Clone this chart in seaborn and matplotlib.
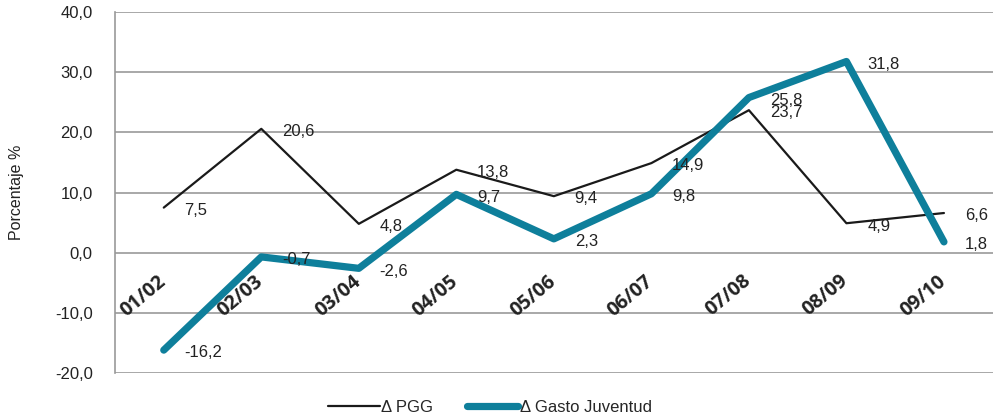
import pandas as pd
import matplotlib.pyplot as plt
import seaborn as sns

# datos
periodos = ["01/02", "02/03", "03/04", "04/05", "05/06", "06/07", "07/08", "08/09", "09/10"]
pgg = [7.5, 20.6, 4.8, 13.8, 9.4, 14.9, 23.7, 4.9, 6.6]
gasto_juventud = [-16.2, -0.7, -2.6, 9.7, 2.3, 9.8, 25.8, 31.8, 1.8]
y_ticks = [-20, -10, 0, 10, 20, 30, 40]

sns.set_theme(style="white")
plt.rcParams["font.family"] = ["Liberation Sans", "DejaVu Sans"]

df = pd.DataFrame({"Periodo": periodos, "PGG": pgg, "Gasto": gasto_juventud})

fig = plt.figure(figsize=(9.94, 4.2), dpi=100)
ax = fig.add_axes([0.1157, 0.112, 0.883, 0.859])

teal = "#0E7F9B"
sns.lineplot(data=df, x="Periodo", y="PGG", color="#1a1a1a", linewidth=1.6,
             ax=ax, label="\u0394 PGG", sort=False)
sns.lineplot(data=df, x="Periodo", y="Gasto", color=teal, linewidth=5.2,
             ax=ax, label="\u0394 Gasto Juventud", sort=False,
             solid_capstyle="round")

# etiquetas de datos
for serie in [pgg, gasto_juventud]:
    for i, v in enumerate(serie):
        ax.annotate(f"{v:.1f}".replace(".", ","), (i, v), xytext=(15, -2),
                    textcoords="offset points", ha="left", va="center",
                    fontsize=12, color="#222222", zorder=4)

ax.set_ylim(-20, 40)
ax.set_xlim(-0.5, 8.5)
ax.set_yticks(y_ticks)
ax.set_yticklabels([f"{t:.1f}".replace(".", ",") for t in y_ticks], fontsize=12, color="#222222")
ax.yaxis.grid(True, color="#999999", linewidth=1.2)
ax.set_axisbelow(True)

ax.spines["top"].set_visible(False)
ax.spines["right"].set_visible(False)
ax.spines["bottom"].set_visible(False)
ax.spines["left"].set_color("#999999")
ax.spines["left"].set_linewidth(1.2)
ax.tick_params(axis="both", length=0)
ax.tick_params(axis="y", pad=16)

# etiquetas de periodo sobre el eje 0, por encima de las líneas
ax.set_xticks(range(len(periodos)))
ax.set_xticklabels([])
for i, p in enumerate(periodos):
    ax.annotate(p, (i, 0), xytext=(-15, -31), textcoords="offset points",
                ha="center", va="center", rotation=40, fontsize=14,
                fontweight="bold", family=["Open Sans", "DejaVu Sans"],
                color="#222222", zorder=5)

ax.set_xlabel("")
ax.set_ylabel("Porcentaje %", fontsize=11.5, color="#222222", labelpad=22)

ax.get_legend().remove()
handles, labels = ax.get_legend_handles_labels()
fig.legend(handles, labels, loc="center", bbox_to_anchor=(0.493, 0.03), ncol=2,
           frameon=False, fontsize=12, handlelength=3.1, columnspacing=2.0,
           handletextpad=0.1)

plt.savefig("out.png", dpi=100)
plt.close()
